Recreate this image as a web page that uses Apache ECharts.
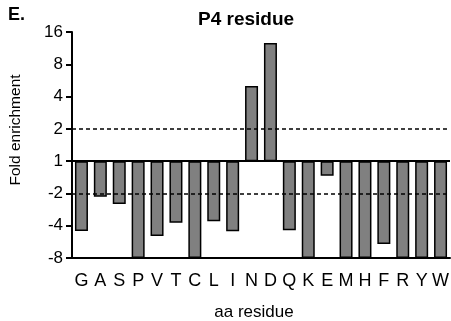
<!DOCTYPE html>
<html>
<head>
<meta charset="utf-8">
<script src="https://cdn.jsdelivr.net/npm/echarts@6/dist/echarts.min.js"></script>
<style>
  html, body { margin: 0; padding: 0; background: #fff; }
  #main { width: 451px; height: 321px; }
</style>
</head>
<body>
<div id="main"></div>
<script>
// residues on the x axis
const residues = ['G', 'A', 'S', 'P', 'V', 'T', 'C', 'L', 'I', 'N', 'D', 'Q', 'K', 'E', 'M', 'H', 'F', 'R', 'Y', 'W']
// fold enrichment on log2 scale (0 = "1", -1 = "-2", 1 = "2" ...)
const log2Fold = [-2.16, -1.1, -1.33, -3, -2.32, -1.91, -3, -1.86, -2.17, 2.33, 3.66, -2.14, -3, -0.45, -3, -3, -2.57, -3, -3, -3]
// cutoff lines at fold 2 and -2
const cutoffs = [1, -1]

const chart = echarts.init(document.getElementById('main'))
const font = 'Liberation Sans, Arial, sans-serif'

const option = {
  backgroundColor: '#fff',
  animation: false,
  title: [
    {
      text: 'E.',
      left: 3,
      top: 1,
      textStyle: { fontFamily: font, fontSize: 18, fontWeight: 'bold', color: '#000' }
    },
    {
      text: 'P4 residue',
      left: 193,
      top: 5,
      textStyle: { fontFamily: font, fontSize: 19, fontWeight: 'bold', color: '#000' }
    }
  ],
  // y axis name sits a bit above the plot centre in the original
  graphic: [
    {
      type: 'text',
      x: 16,
      y: 130,
      rotation: Math.PI / 2,
      style: {
        text: 'Fold enrichment',
        font: '15.5px ' + font,
        fill: '#000',
        align: 'center',
        verticalAlign: 'middle'
      }
    }
  ],
  grid: { left: 72, right: 1, top: 32, bottom: 63, outerBoundsMode: 'none', containLabel: false },
  xAxis: {
    type: 'category',
    data: residues,
    name: 'aa residue',
    nameLocation: 'middle',
    nameGap: 46,
    nameTextStyle: { fontFamily: font, fontSize: 17, color: '#000', padding: [0, 14, 0, 0] },
    axisLine: { onZero: false, lineStyle: { color: '#000', width: 2 } },
    axisTick: { alignWithLabel: true, length: 8, lineStyle: { color: '#000', width: 2 } },
    axisLabel: { fontFamily: font, fontSize: 18, color: '#000', margin: 14, interval: 0 }
  },
  yAxis: {
    type: 'value',
    min: -3,
    max: 4,
    interval: 1,
    splitLine: { show: false },
    axisLine: { show: true, lineStyle: { color: '#000', width: 2 } },
    axisTick: { show: true, length: 6, lineStyle: { color: '#000', width: 2 } },
    axisLabel: {
      fontFamily: font,
      fontSize: 17,
      color: '#000',
      margin: 9,
      formatter: function (v) {
        if (v === 0) return '1'
        return v > 0 ? String(Math.pow(2, v)) : String(-Math.pow(2, -v))
      }
    }
  },
  series: [
    {
      type: 'line',
      data: [],
      z: 1,
      markLine: {
        silent: true,
        symbol: 'none',
        label: { show: false },
        data: cutoffs.map(function (c) {
          return { yAxis: c, lineStyle: { color: '#000', width: 1.5, type: [4, 3] } }
        }).concat([{ yAxis: 0, lineStyle: { color: '#000', width: 2, type: 'solid' }, z: 5 }])
      }
    },
    {
      type: 'bar',
      data: log2Fold,
      barWidth: 13,
      z: 3,
      itemStyle: { color: '#808080', borderColor: '#000', borderWidth: 1.5 }
    }
  ]
}
chart.setOption(option)
</script>
</body>
</html>
